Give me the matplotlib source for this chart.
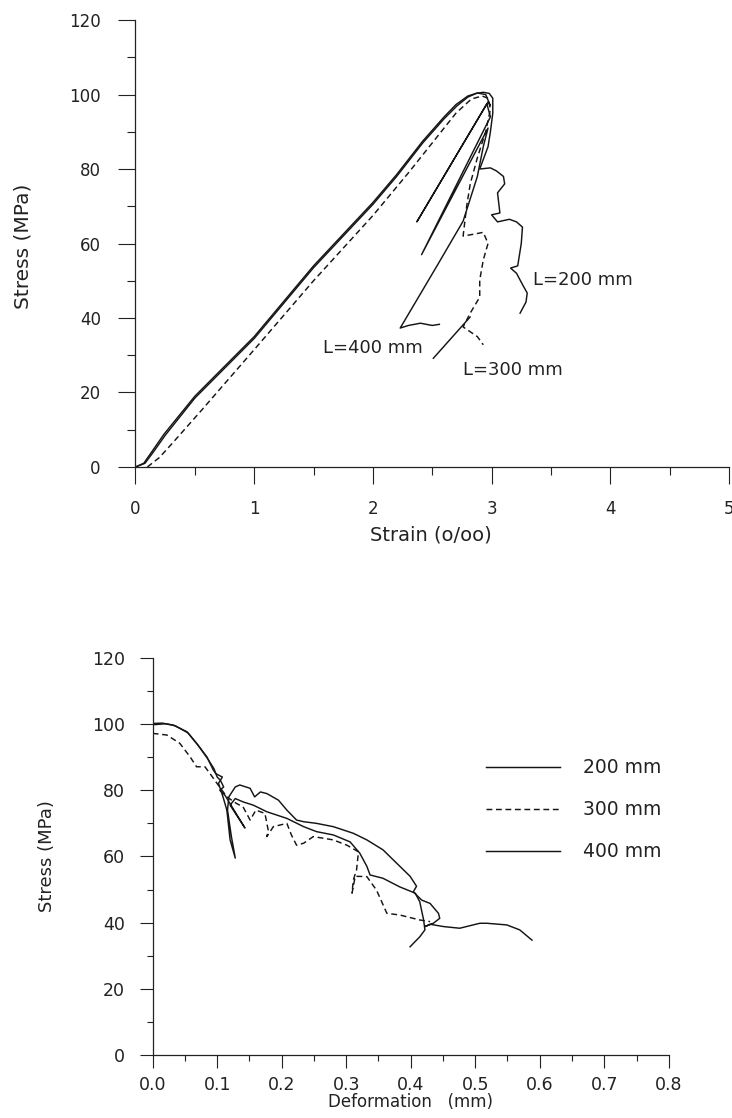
import matplotlib
matplotlib.use("Agg")
import matplotlib.pyplot as plt
from matplotlib.ticker import MultipleLocator, FormatStrFormatter

plt.rcParams['font.family'] = ['DejaVu Sans']

# ---------------- Top chart data: stress-strain ----------------
s200_strain = [0, 0.08, 0.15, 0.25, 0.5, 1.0, 1.5, 2.0, 2.2, 2.42, 2.6, 2.71, 2.8, 2.87, 2.93,
               2.98, 3.01, 3.01, 2.99, 2.97, 2.90, 2.99, 3.04, 3.10, 3.11, 3.05, 3.07, 3.00,
               3.05, 3.15, 3.21, 3.26, 3.25, 3.22, 3.16, 3.21, 3.26, 3.30, 3.29, 3.24]
s200_stress = [0, 1.0, 4.0, 8.5, 18.5, 34.5, 53.5, 70.5, 78.0, 87.0, 93.5, 97.0, 99.3, 100.3, 100.6,
               100.3, 99.0, 95.0, 90.0, 86.0, 80.0, 80.3, 79.5, 78.0, 76.0, 73.6, 68.2, 67.7,
               65.8, 66.5, 65.8, 64.4, 60.0, 54.0, 53.4, 52.0, 49.0, 46.7, 44.3, 41.3]

s300_strain = [0.10, 0.2, 0.3, 0.55, 1.0, 1.5, 2.0, 2.3, 2.5, 2.7, 2.83, 2.92,
               2.97, 2.99, 2.95, 2.88, 2.82, 2.79, 2.76, 2.85, 2.93, 2.97, 2.93, 2.90,
               2.90, 2.82, 2.76, 2.88, 2.93]
s300_stress = [0, 2.5, 6.0, 15.0, 31.5, 50.0, 67.5, 79.0, 87.0, 95.0, 98.8, 99.6,
               99.0, 96.0, 90.0, 83.0, 76.0, 70.0, 62.0, 62.5, 63.0, 60.0, 55.6, 50.2,
               45.6, 41.3, 37.6, 35.0, 32.8]

s400_strain = [0, 0.07, 0.14, 0.24, 0.5, 1.0, 1.5, 2.0, 2.2, 2.42, 2.6, 2.7, 2.8, 2.88,
               2.95, 2.99, 2.97, 2.37, 2.96, 2.99, 2.41, 2.97, 2.93, 2.88, 2.82, 2.76,
               2.54, 2.23, 2.30, 2.40, 2.50, 2.56]
s400_stress = [0, 1.0, 4.2, 8.8, 19.0, 35.0, 54.0, 71.0, 78.5, 87.5, 94.0, 97.3, 99.6, 100.4,
               100.0, 97.0, 98.0, 65.8, 97.5, 94.0, 57.0, 91.0, 86.0, 78.0, 72.0, 66.0,
               54.0, 37.3, 38.0, 38.6, 38.0, 38.3]

top_labels = ["L=200 mm", "L=300 mm", "L=400 mm"]

# ---------------- Bottom chart data: stress-deformation ----------------
d200 = [0, 0.015, 0.032, 0.053, 0.068, 0.084, 0.094, 0.098, 0.108, 0.102, 0.109, 0.115, 0.120,
        0.128, 0.122, 0.116, 0.118, 0.128, 0.135, 0.151, 0.158, 0.167, 0.177, 0.195, 0.208,
        0.223, 0.234, 0.254, 0.280, 0.311, 0.332, 0.357, 0.378, 0.399, 0.409, 0.404, 0.417,
        0.430, 0.443, 0.445, 0.435, 0.422, 0.430, 0.451, 0.476, 0.507, 0.518, 0.549, 0.569, 0.588]
p200 = [100.2, 100.3, 99.7, 97.7, 94.2, 90.1, 86.1, 85.0, 84.0, 82.1, 78.0, 74.0, 65.0,
        59.5, 66.0, 74.0, 78.0, 81.0, 81.6, 80.6, 78.0, 79.5, 79.0, 77.0, 74.0,
        71.0, 70.5, 70.0, 69.0, 67.0, 65.0, 62.0, 58.0, 54.0, 51.0, 49.3, 46.8,
        45.8, 42.8, 41.3, 39.8, 38.8, 39.5, 38.8, 38.3, 39.8, 39.8, 39.3, 37.8, 34.7]

d300 = [0, 0.022, 0.042, 0.058, 0.068, 0.081, 0.089, 0.100, 0.115, 0.130, 0.140, 0.151, 0.160,
        0.174, 0.179, 0.177, 0.187, 0.208, 0.215, 0.223, 0.234, 0.249, 0.280, 0.301, 0.319,
        0.316, 0.311, 0.309, 0.314, 0.332, 0.347, 0.363, 0.383, 0.414, 0.430]
p300 = [97.2, 96.7, 94.2, 90.1, 87.1, 87.1, 85.0, 82.0, 78.0, 76.0, 75.0, 71.0, 74.0,
        73.0, 68.0, 66.0, 69.0, 70.0, 66.5, 63.4, 64.0, 66.0, 65.0, 63.4, 61.4,
        55.9, 52.9, 48.9, 54.0, 53.9, 49.8, 42.8, 42.3, 40.8, 40.3]

d400 = [0, 0.02, 0.035, 0.055, 0.070, 0.085, 0.095, 0.100, 0.105, 0.110, 0.104, 0.112, 0.143,
        0.120, 0.128, 0.140, 0.156, 0.177, 0.208, 0.234, 0.254, 0.280, 0.306, 0.321, 0.332,
        0.337, 0.357, 0.383, 0.407, 0.414, 0.420, 0.422, 0.414, 0.399]
p400 = [99.8, 100.1, 99.5, 97.3, 93.7, 89.6, 86.5, 84.0, 83.0, 81.0, 80.0, 78.5, 68.6,
        75.5, 77.5, 76.5, 75.5, 73.5, 71.5, 69.0, 67.5, 66.5, 64.4, 61.0, 57.0,
        54.4, 53.4, 50.8, 48.9, 46.3, 40.8, 37.8, 35.7, 32.7]

legend_labels = ["200 mm", "300 mm", "400 mm"]

INK = '#151515'
TXT = '#222222'
LW = 1.05
DASH = (0, (4, 2.5))

fig = plt.figure(figsize=(7.32, 11.18), dpi=100)

def style_axes(ax, major_len, minor_len, xpad, ypad, labelsize):
    for sp in ['top', 'right']:
        ax.spines[sp].set_visible(False)
    for sp in ['left', 'bottom']:
        ax.spines[sp].set_linewidth(0.9)
        ax.spines[sp].set_color(TXT)
    ax.tick_params(which='major', direction='out', length=major_len, width=0.8,
                   colors=TXT, labelsize=labelsize, labelcolor=TXT)
    ax.tick_params(which='minor', direction='out', length=minor_len, width=0.8, colors=TXT)
    ax.tick_params(axis='x', which='major', pad=xpad)
    ax.tick_params(axis='y', which='major', pad=ypad)

# ---------------- Top chart ----------------
ax1 = fig.add_axes([0.1851, 0.5823, 0.8108, 0.3998])
ax1.plot(s200_strain, s200_stress, color=INK, lw=LW)
ax1.plot(s400_strain, s400_stress, color=INK, lw=LW)
ax1.plot(s300_strain, s300_stress, color=INK, lw=LW, linestyle=DASH)
ax1.set_xlim(0, 5)
ax1.set_ylim(0, 120)
ax1.xaxis.set_major_locator(MultipleLocator(1))
ax1.xaxis.set_minor_locator(MultipleLocator(0.5))
ax1.yaxis.set_major_locator(MultipleLocator(20))
ax1.yaxis.set_minor_locator(MultipleLocator(10))
style_axes(ax1, 12.5, 6, 11.2, 12.5, 12)
ax1.set_ylabel("Stress (MPa)", fontsize=14.5, color=TXT)
ax1.yaxis.set_label_coords(-0.174, 0.494)
ax1.set_xlabel("Strain (o/oo)", fontsize=14, color=TXT)
ax1.xaxis.set_label_coords(0.498, -0.132)

ax1.text(3.35, 50.2, top_labels[0], fontsize=13, va='center', ha='left', color=TXT)
ax1.text(1.58, 32.0, top_labels[2], fontsize=13, va='center', ha='left', color=TXT)
ax1.annotate(top_labels[1], xy=(2.82, 40.3), xytext=(2.76, 26.0), fontsize=13,
             va='center', ha='left', color=TXT,
             arrowprops=dict(arrowstyle='-', color=INK, lw=LW,
                             shrinkA=0, shrinkB=0, relpos=(-0.3, 1.15)))

# ---------------- Bottom chart ----------------
ax2 = fig.add_axes([0.2086, 0.0564, 0.705, 0.3551])
ax2.plot(d200, p200, color=INK, lw=LW, label=legend_labels[0])
ax2.plot(d300, p300, color=INK, lw=LW, linestyle=DASH, label=legend_labels[1])
ax2.plot(d400, p400, color=INK, lw=LW, label=legend_labels[2])
ax2.set_xlim(0, 0.8)
ax2.set_ylim(0, 120)
ax2.xaxis.set_major_locator(MultipleLocator(0.1))
ax2.xaxis.set_minor_locator(MultipleLocator(0.05))
ax2.xaxis.set_major_formatter(FormatStrFormatter('%.1f'))
ax2.yaxis.set_major_locator(MultipleLocator(20))
ax2.yaxis.set_minor_locator(MultipleLocator(10))
style_axes(ax2, 9.5, 4.3, 5.5, 10.5, 12.5)
ax2.set_ylabel("Stress (MPa)", fontsize=13, color=TXT)
ax2.yaxis.set_label_coords(-0.188, 0.5)
ax2.set_xlabel("Deformation   (mm)", fontsize=12, color=TXT)
ax2.xaxis.set_label_coords(0.5, -0.096)

leg = ax2.legend(loc='upper left', bbox_to_anchor=(0.646, 0.7474), frameon=False,
                 fontsize=13.5, handlelength=3.95, handletextpad=1.23, labelspacing=1.23,
                 borderpad=0, borderaxespad=0)
for t in leg.get_texts():
    t.set_color(TXT)

fig.savefig("out.png", dpi=100)
